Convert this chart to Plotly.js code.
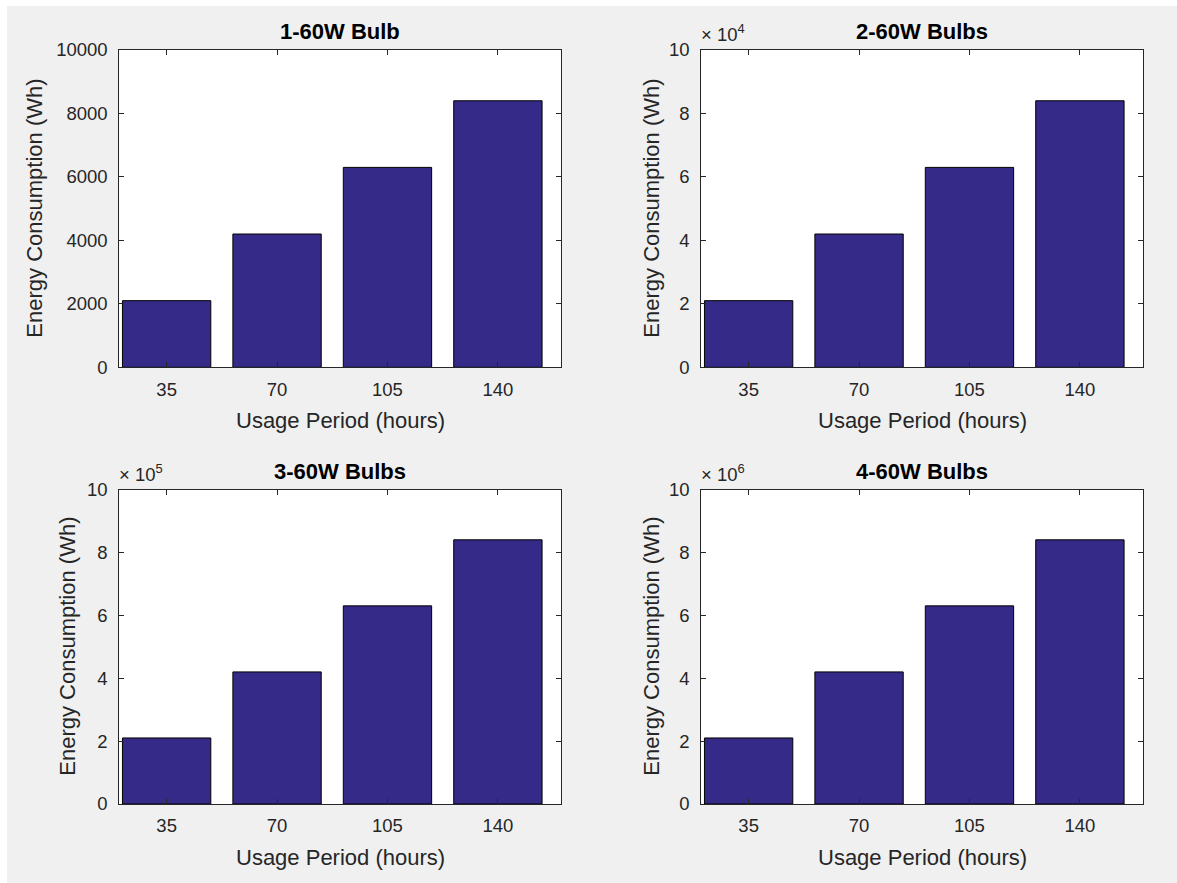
<!DOCTYPE html>
<html>
<head>
<meta charset="utf-8">
<script src="https://cdn.plot.ly/plotly-3.0.1.min.js"></script>
<style>html,body{margin:0;padding:0;background:#fff;}#chart{width:1177px;height:883px;}</style>
</head>
<body>
<div id="chart"></div>
<script>
// ---- data ----
const periods = [35, 70, 105, 140];                 // usage period (hours)
const bulb1 = [2100, 4200, 6300, 8400];             // Wh
const bulb2 = [21000, 42000, 63000, 84000];         // Wh
const bulb3 = [210000, 420000, 630000, 840000];     // Wh
const bulb4 = [2100000, 4200000, 6300000, 8400000]; // Wh
const titles = ['1-60W Bulb', '2-60W Bulbs', '3-60W Bulbs', '4-60W Bulbs'];
const exponents = [0, 4, 5, 6];
const yTickNumbers = [0, 2, 4, 6, 8, 10];
const xLabel = 'Usage Period (hours)';
const yLabel = 'Energy Consumption (Wh)';

const series = [bulb1, bulb2, bulb3, bulb4];

// ---- layout geometry (pixels) ----
const W = 1177, H = 883;
const px = x => x / W;
const py = y => 1 - y / H;
const boxes = [
  {l: 119.3, r: 561, t: 50, b: 367.3, ylab: 35},
  {l: 701.3, r: 1143, t: 50, b: 367.3, ylab: 652},
  {l: 119.3, r: 561, t: 489.5, b: 804, ylab: 68},
  {l: 701.3, r: 1143, t: 489.5, b: 804, ylab: 652}
];

const FONT = 'Liberation Sans, Arial, Helvetica, sans-serif';
const AX = '#262626';
const barColor = 'rgb(53,42,135)';
const TICK = 18.5, LAB = 22, TTL = 22;

const traces = [];
const layout = {
  width: W, height: H,
  margin: {l: 0, r: 0, t: 0, b: 0, pad: 0},
  paper_bgcolor: '#F0F0F0',
  plot_bgcolor: '#FFFFFF',
  showlegend: false,
  font: {family: FONT, color: AX, size: TICK},
  annotations: [],
  shapes: [
    {type: 'rect', xref: 'paper', yref: 'paper', x0: 0, x1: px(7), y0: 0, y1: 1,
     fillcolor: '#FFFFFF', line: {width: 0}, layer: 'below'},
    {type: 'rect', xref: 'paper', yref: 'paper', x0: 0, x1: 1, y0: py(6), y1: 1,
     fillcolor: '#FFFFFF', line: {width: 0}, layer: 'below'}
  ]
};

series.forEach((vals, i) => {
  const n = i + 1;
  const sfx = n === 1 ? '' : String(n);
  const b = boxes[i];
  traces.push({
    type: 'bar', x: periods, y: vals, width: 0.8 * 35,
    xaxis: 'x' + sfx, yaxis: 'y' + sfx,
    marker: {color: barColor, line: {color: '#000000', width: 1}},
    hoverinfo: 'x+y'
  });
  const scale = Math.pow(10, exponents[i]);
  const tickvals = i === 0 ? yTickNumbers.map(v => v * 1000) : yTickNumbers.map(v => v * scale);
  const ticktext = i === 0 ? yTickNumbers.map(v => String(v * 1000)) : yTickNumbers.map(v => String(v));
  layout['xaxis' + sfx] = {
    domain: [px(b.l), px(b.r)], anchor: 'y' + sfx,
    range: [20, 160], tickvals: periods, ticktext: periods.map(String),
    ticks: 'inside', ticklen: 5, tickwidth: 1, tickcolor: AX,
    showline: true, linecolor: AX, linewidth: 1, mirror: 'ticks',
    showgrid: false, zeroline: false, fixedrange: true,
    tickfont: {family: FONT, size: TICK, color: AX}, ticklabelstandoff: 5
  };
  layout['yaxis' + sfx] = {
    domain: [py(b.b), py(b.t)], anchor: 'x' + sfx,
    range: [0, 10 * (i === 0 ? 1000 : scale)], tickvals: tickvals, ticktext: ticktext,
    ticks: 'inside', ticklen: 5, tickwidth: 1, tickcolor: AX,
    showline: true, linecolor: AX, linewidth: 1, mirror: 'ticks',
    showgrid: false, zeroline: false, fixedrange: true,
    tickfont: {family: FONT, size: TICK, color: AX}, ticklabelstandoff: 7
  };
  const cx = (b.l + b.r) / 2;
  const cy = (b.t + b.b) / 2;
  // title
  layout.annotations.push({
    xref: 'paper', yref: 'paper', x: px(cx), y: py(b.t - 18), xanchor: 'center', yanchor: 'middle',
    text: '<b>' + titles[i] + '</b>', showarrow: false, font: {family: FONT, size: TTL, color: '#000000'}
  });
  // x label
  layout.annotations.push({
    xref: 'paper', yref: 'paper', x: px(cx), y: py(b.b + 53), xanchor: 'center', yanchor: 'middle',
    text: xLabel, showarrow: false, font: {family: FONT, size: LAB, color: AX}
  });
  // y label
  layout.annotations.push({
    xref: 'paper', yref: 'paper', x: px(b.ylab), y: py(cy), xanchor: 'center', yanchor: 'middle',
    text: yLabel, textangle: -90, showarrow: false, font: {family: FONT, size: LAB, color: AX}
  });
  // exponent
  if (exponents[i] > 0) {
    layout.annotations.push({
      xref: 'paper', yref: 'paper', x: px(b.l - 2), y: py(b.t - 3), xanchor: 'left', yanchor: 'bottom',
      text: '× 10<sup>' + exponents[i] + '</sup>', showarrow: false,
      font: {family: FONT, size: TICK, color: AX}
    });
  }
});

Plotly.newPlot('chart', traces, layout, {displayModeBar: false});
</script>
</body>
</html>
